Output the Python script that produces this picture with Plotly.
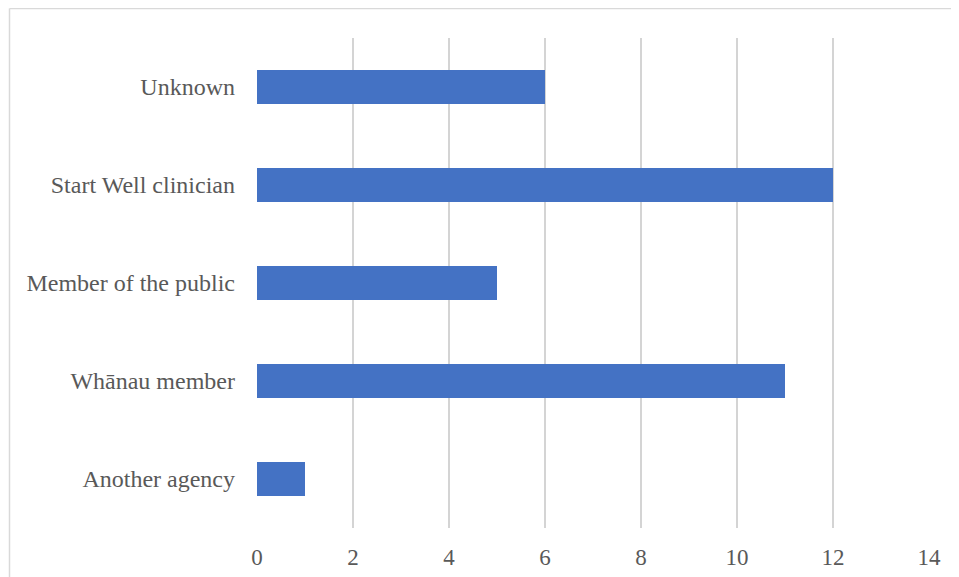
import plotly.graph_objects as go

categories = ["Another agency", "Whānau member", "Member of the public", "Start Well clinician", "Unknown"]
values = [1, 11, 5, 12, 6]
x_ticks = [0, 2, 4, 6, 8, 10, 12, 14]

# page has 8px body margin: figure origin sits at (8, 8) in the window
OFF = 8
W, H = 959 - OFF, 577 - OFF
L, R, T, B = 257 - OFF, 929 - OFF, 38 - OFF, 528 - OFF
pw, ph = R - L, B - T

fig = go.Figure(go.Bar(
    y=categories, x=values, orientation="h",
    marker=dict(color="#4472C4", line=dict(width=0)),
    width=0.347,
))

fig.update_layout(
    width=W, height=H,
    margin=dict(l=L, r=W - R, t=T, b=H - B, pad=0, autoexpand=False),
    paper_bgcolor="white", plot_bgcolor="white",
    font=dict(family="Liberation Serif, Times New Roman, serif", size=23, color="#595959"),
    showlegend=False,
    xaxis=dict(range=[0, 14], tickvals=x_ticks, showgrid=True, gridcolor="#d4d4d4", gridwidth=1.5,
               zeroline=False, showline=False, ticks="", ticklen=0, tickfont=dict(size=23),
               ticklabelstandoff=13, automargin=False),
    yaxis=dict(categoryorder="array", categoryarray=categories, showgrid=False, zeroline=False,
               showline=False, ticks="", ticklabelstandoff=21, tickfont=dict(size=24),
               automargin=False),
    bargap=0.65,
)

x0 = (1.5 - L) / pw
y1 = 1 + (T - 0.5) / ph
fig.add_shape(type="line", xref="paper", yref="paper", x0=x0, x1=x0, y0=-0.2, y1=y1,
              line=dict(color="#d9d9d9", width=1.5))
fig.add_shape(type="line", xref="paper", yref="paper", x0=x0, x1=1.2, y0=y1, y1=y1,
              line=dict(color="#d9d9d9", width=1.5))

fig.write_html("out.html")
